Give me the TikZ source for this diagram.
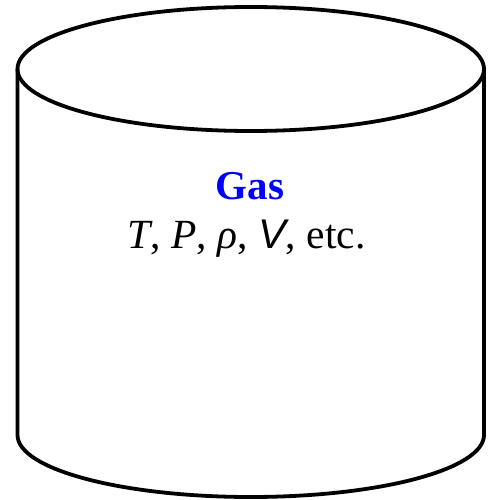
\documentclass[tikz,border=0pt]{standalone}
\usepackage{fontspec}
\setmainfont{Liberation Serif}
\setsansfont{Liberation Sans}
\begin{document}
\begin{tikzpicture}[x=1pt,y=-1pt,
  cyl/.style={line width=3.8pt,draw=black},
  title/.style={font=\fontsize{41}{45}\selectfont\bfseries,text=blue,anchor=base,inner sep=0pt},
  vars/.style={font=\fontsize{41.5}{45}\selectfont,text=black,anchor=base,inner sep=0pt}]
\useasboundingbox (0,0) rectangle (495,500);
\coordinate (c) at (250.75,69);
\draw[cyl] (17.5,69) -- (17.5,435) arc[start angle=180,end angle=360,x radius=233.25,y radius=-62] -- (484,69);
\draw[cyl] (c) ellipse[x radius=233.25,y radius=62];
\node[title] (gas) at (250,199) {Gas};
\node[vars] (props) at (246.5,248) {\textit{T}, \textit{P}, \textit{ρ}, {\sffamily\itshape V}, etc.};
\end{tikzpicture}
\end{document}
